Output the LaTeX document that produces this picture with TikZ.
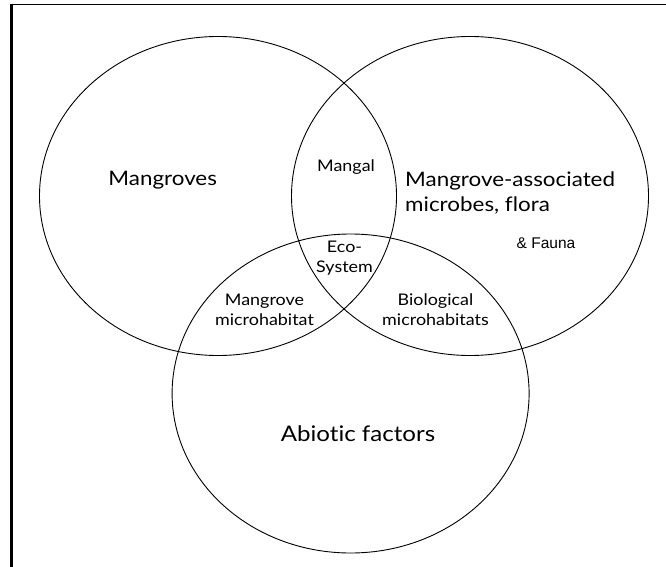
\documentclass[tikz,border=0pt]{standalone}
\usepackage{fontspec}
\setmainfont[FakeStretch=1.12, Ligatures={NoCommon, NoDiscretionary}]{Lato}
\newfontfamily\faunafont{Liberation Sans}

\begin{document}
\begin{tikzpicture}[x=1pt, y=-1pt,
  set/.style={line width=0.9pt},
  bigtext/.style={font=\fontsize{20}{25}\selectfont, inner sep=0pt},
  smalltext/.style={font=\fontsize{16}{20.5}\selectfont, align=center, inner sep=0pt}]
  \useasboundingbox (0,0) rectangle (666,567);
  % frame
  \draw[line width=2.6pt] (11.3,567) -- (11.3,4.5);
  \draw[line width=1.8pt] (10,4.5) -- (666,4.5);
  % the three sets
  \draw[set] (218,196) ellipse [x radius=178.5, y radius=159.5];
  \draw[set] (470,196) ellipse [x radius=178.5, y radius=159.5];
  \draw[set] (350.6,393.5) ellipse [x radius=178.5, y radius=159.5];

  \node[bigtext] (mangroves) at (162.7,180) {Mangroves};
  \node[bigtext, anchor=west, align=left] (associated) at (405,192.5) {Mangrove-associated\\microbes, flora};
  \node[font=\faunafont\fontsize{15.5}{18}\selectfont, inner sep=0pt] (fauna) at (546,243.3) {\& Fauna};
  \node[bigtext, font=\fontsize{21.5}{26}\selectfont] (abiotic) at (358,433.3) {Abiotic factors};

  \node[smalltext] (mangal) at (346,167) {Mangal};
  \node[smalltext] (eco) at (344.5,258) {Eco-\\System};
  \node[smalltext] (mhabitat) at (264.5,310) {Mangrove\\microhabitat};
  \node[smalltext] (bhabitat) at (435.5,309.5) {Biological\\microhabitats};
\end{tikzpicture}
\end{document}
